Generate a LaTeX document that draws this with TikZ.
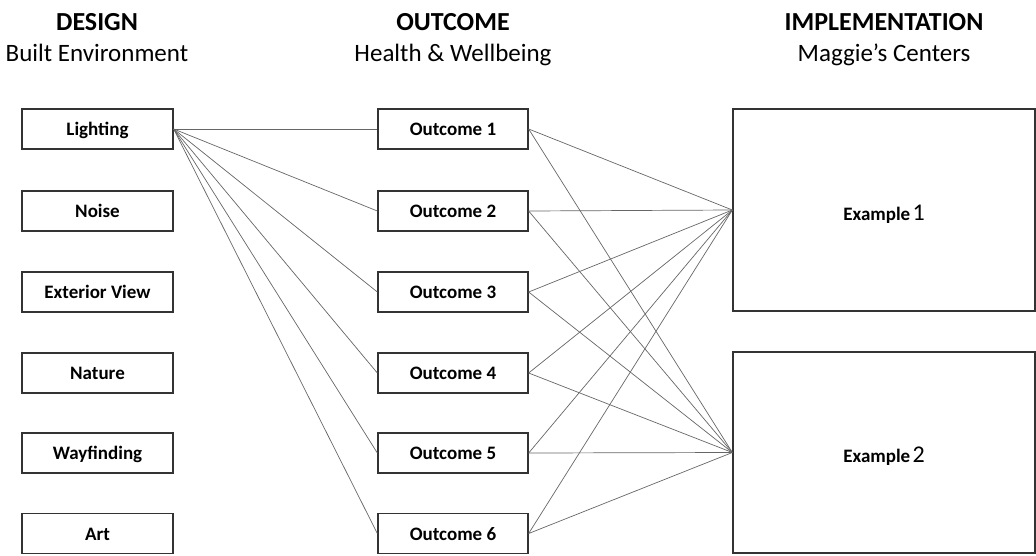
\documentclass[tikz,border=0pt]{standalone}
\usepackage{fontspec}
\setmainfont{Carlito}
\begin{document}
\begin{tikzpicture}[x=1pt,y=-1pt,
  box/.style={draw=black!80, line width=1.3pt, minimum width=151pt, minimum height=40pt, inner sep=0pt,
    font=\fontsize{19}{20}\selectfont\bfseries, text height=13pt, text depth=0pt},
  link/.style={draw=black!60, line width=0.7pt},
  big/.style={draw=black!80, line width=1.3pt, minimum width=302pt, inner sep=0pt},
  head/.style={font=\fontsize{26}{28}\selectfont\bfseries, anchor=base},
  sub/.style={font=\fontsize{25}{28}\selectfont, anchor=base},
  ex/.style={anchor=base, inner sep=0pt}]
\useasboundingbox (0,0) rectangle (1036,555);

% headers
\node[head] (h1) at (97,30) {DESIGN};
\node[sub]  (s1) at (97,61) {Built Environment};
\node[head] (h2) at (453,30) {OUTCOME};
\node[sub]  (s2) at (453,61) {Health \& Wellbeing};
\node[head] (h3) at (884,30) {IMPLEMENTATION};
\node[sub]  (s3) at (884,61) {Maggie’s Centers};

% design column
\node[box] (d1) at (97.5,129) {Lighting};
\node[box] (d2) at (97.5,211) {Noise};
\node[box] (d3) at (97.5,292) {Exterior View};
\node[box] (d4) at (97.5,373) {Nature};
\node[box] (d5) at (97.5,453) {Wayfinding};
\node[box] (d6) at (97.5,533.5) {Art};

% outcome column
\node[box, minimum width=150pt] (o1) at (453,129) {Outcome 1};
\node[box, minimum width=150pt] (o2) at (453,211) {Outcome 2};
\node[box, minimum width=150pt] (o3) at (453,292) {Outcome 3};
\node[box, minimum width=150pt] (o4) at (453,373) {Outcome 4};
\node[box, minimum width=150pt] (o5) at (453,453) {Outcome 5};
\node[box, minimum width=150pt] (o6) at (453,533.5) {Outcome 6};

% implementation column
\node[big, minimum height=202pt] (e1) at (884,210) {};
\node[big, minimum height=201pt] (e2) at (884,452.5) {};
\node[ex] (t1) at (884,220) {{\fontsize{19}{20}\selectfont\bfseries Example} {\fontsize{24}{26}\selectfont 1}};
\node[ex] (t2) at (884,462) {{\fontsize{19}{20}\selectfont\bfseries Example} {\fontsize{24}{26}\selectfont 2}};

% connectors
\foreach \i in {1,...,6} {
  \draw[link] (d1.east) -- (o\i.west);
  \draw[link] (o\i.east) -- (e1.west);
  \draw[link] (o\i.east) -- (e2.west);
}
\end{tikzpicture}
\end{document}
